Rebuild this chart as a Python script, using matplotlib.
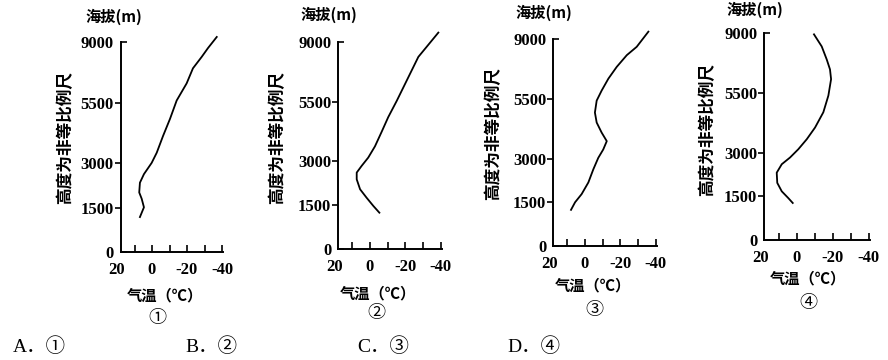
import numpy as np
import matplotlib
matplotlib.use('Agg')
import matplotlib.pyplot as plt

plt.rcParams['font.family'] = ['Liberation Serif', 'Noto Sans CJK SC']

# temperature (C) / altitude (m)
T1 = [6.9, 4.6, 5.9, 7.3, 6.9, 4.6, 0.2, -2.7, -6.3, -10.3, -14.1, -19.8, -23.4, -28.4, -32, -37]
H1 = [1180, 1510, 1800, 2010, 2340, 2630, 3010, 3430, 4120, 4830, 5620, 6610, 7480, 8140, 8650, 9290]

T2 = [-5.3, -1.9, 1.9, 5.6, 7.5, 7.5, 4.7, 1.0, -2.8, -6.6, -10.3, -15.1, -19.8, -24.5, -27.3, -32, -38.6]
H2 = [1250, 1480, 1760, 2050, 2390, 2620, 2850, 3160, 3630, 4240, 4850, 5540, 6530, 7520, 8110, 8700, 9530]

T3 = [7.9, 5.6, 1.9, -1.9, -4.7, -7.5, -10.3, -12.3, -9.4, -6.6, -5.6, -6.6, -9.4, -13.2, -17.9, -23.6, -29.2, -35.8]
H3 = [1240, 1500, 1780, 2180, 2630, 3030, 3380, 3730, 4090, 4510, 4930, 5430, 5990, 6690, 7380, 8070, 8560, 9450]

T4 = [2.2, 4.7, 8.3, 10.8, 11.1, 8.3, 3.7, -0.9, -5.6, -10.2, -14.8, -17.6, -19.1, -18.5, -16.7, -13.9, -9.6]
H4 = [1270, 1440, 1670, 1960, 2310, 2600, 2830, 3140, 3560, 4050, 4690, 5390, 6310, 6880, 7460, 8230, 8940]

panel_names = ['①', '②', '③', '④']
answers = ['A．①', 'B．②', 'C．③', 'D．④']
y_major = [1500, 3000, 5500]
y_ends = [0, 9000]
x_ticks = [20, 10, 0, -10, -20, -30, -40]
x_labels = ['20', '', '0', '', '-20', '', '-40']

# non-proportional height axis ("高度为非等比例尺")
ALT = [-5000, 0, 1500, 3000, 5500, 9000, 20000]
POS = [-146.7, 0, 44, 88, 148, 208, 396.6]

def fwd(h):
    return np.interp(h, ALT, POS)

def inv(p):
    return np.interp(p, POS, ALT)

W, H = 888, 360
fig = plt.figure(figsize=(W / 100, H / 100), dpi=100)

# pixel layout: left, right, bottom, height of each axes; then text anchors
boxes = [(115.25, 223.75, 252, 220.4),
         (332.8, 442.6, 249.3, 217.9),
         (547.8, 657.6, 246, 216.9),
         (758.9, 870.5, 240, 216.9)]
top_lbl = [(114, 17), (329, 15), (544, 13), (755, 10)]
side_lbl = [(65, 137), (277, 138), (493, 133), (707, 129)]
x_lbl = [(165, 295), (378, 293), (593, 285), (808, 278)]
num_lbl = [(157, 318), (376, 313), (594, 310), (808, 303)]
ans_x = [13, 185, 357, 507]

cjk = ['Noto Sans CJK SC', 'DejaVu Sans']
tick_font = dict(family='Liberation Serif', size=12, weight='bold')

def fx(px):
    return px / W

def fy(py):
    return 1 - py / H

for i, (T, Hs) in enumerate([(T1, H1), (T2, H2), (T3, H3), (T4, H4)]):
    l, r, b, h = boxes[i]
    ax = fig.add_axes([fx(l), fy(b), (r - l) / W, h / H])
    ax.set_yscale('function', functions=(fwd, inv))
    ax.plot(T, Hs, color='black', lw=1.3)
    ax.set_xlim(21, -41)
    ax.set_ylim(0, 9600)
    ax.patch.set_visible(False)

    for s in ['top', 'right']:
        ax.spines[s].set_visible(False)
    ax.spines['left'].set_position(('data', 18))
    ax.spines['left'].set_bounds(0, 9000)
    ax.spines['bottom'].set_bounds(18, -40.5)
    for s in ['left', 'bottom']:
        ax.spines[s].set_linewidth(1.4)

    ax.set_yticks(y_major)
    ax.set_yticklabels([str(v) for v in y_major], fontdict=tick_font)
    ax.set_yticks(y_ends, minor=True)
    ax.set_yticklabels([str(v) for v in y_ends], minor=True, fontdict=tick_font)
    ax.tick_params(axis='y', which='major', direction='out', length=4, width=1.2, pad=1)
    ax.tick_params(axis='y', which='minor', direction='in', length=4, width=1.2, pad=5)

    ax.set_xticks(x_ticks)
    ax.set_xticklabels(x_labels, fontdict=tick_font)
    ax.xaxis.set_minor_locator(plt.NullLocator())
    ax.tick_params(axis='x', direction='in', length=5, width=1.2, pad=7)
    ax.xaxis.get_major_ticks()[0].tick1line.set_visible(False)

    fig.text(fx(top_lbl[i][0]), fy(top_lbl[i][1]), '海拔(m)', family=cjk,
             fontsize=11, fontweight='bold', ha='center', va='center')
    fig.text(fx(side_lbl[i][0]), fy(side_lbl[i][1]), '高度为非等比例尺', family=cjk,
             fontsize=12, fontweight='bold', rotation=90, ha='center', va='center')
    fig.text(fx(x_lbl[i][0]), fy(x_lbl[i][1]), '气温（℃）', family=cjk,
             fontsize=11, fontweight='bold', ha='center', va='center')
    fig.text(fx(num_lbl[i][0]), fy(num_lbl[i][1]), panel_names[i], family=cjk,
             fontsize=13, ha='center', va='center')

for x0, a in zip(ans_x, answers):
    fig.text(fx(x0), fy(347), a, fontsize=14, ha='left', va='center')

fig.savefig('out.png', dpi=100)
